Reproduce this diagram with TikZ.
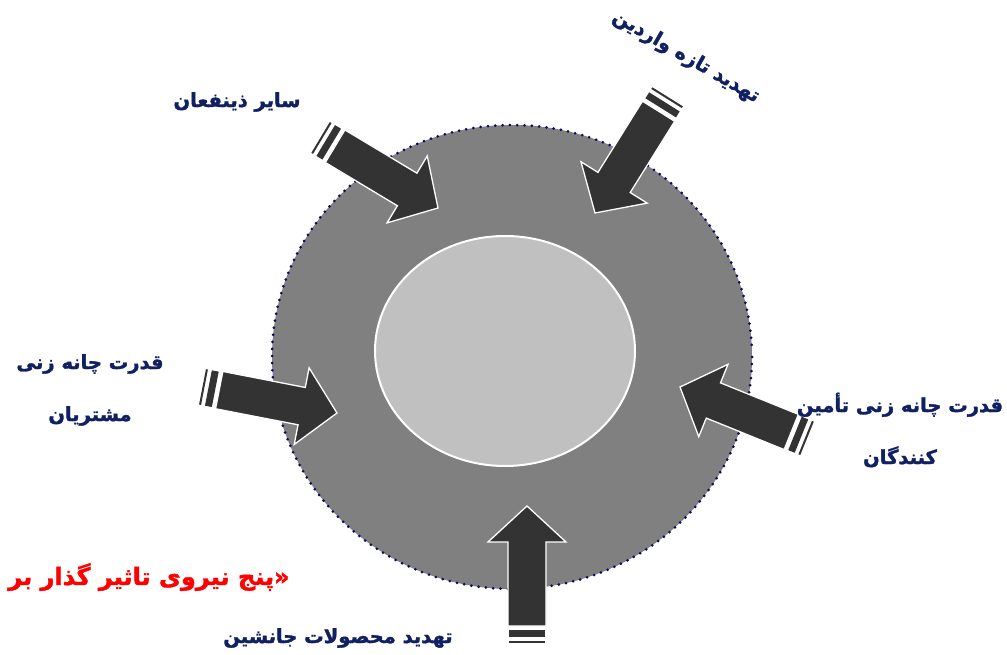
\documentclass[tikz,border=0pt]{standalone}
\usepackage{fontspec}
\usetikzlibrary{shapes.geometric}
\newfontfamily\farsifont[Script=Arabic,BoldFeatures={FakeBold=1.6}]{DejaVu Sans}
\TeXXeTstate=1
\definecolor{ringgray}{RGB}{128,128,128}
\definecolor{coregray}{RGB}{192,192,192}
\definecolor{arrowgray}{RGB}{51,51,51}
\definecolor{labelblue}{RGB}{16,32,96}
\definecolor{dotblue}{RGB}{10,10,100}

\tikzset{
  forcelabel/.style={text=labelblue,inner sep=0pt,align=center,
    font=\farsifont\bfseries\fontsize{19.5}{52}\selectfont},
  titlelabel/.style={text=red,inner sep=0pt,
    font=\farsifont\bfseries\fontsize{24}{28}\selectfont},
  forcearrow/.pic={
    \filldraw[fill=arrowgray,draw=white,line width=1.3pt]
      (0,0) -- (-36,-39) -- (-36,-19) -- (-120,-19) -- (-120,19) -- (-36,19) -- (-36,39) -- cycle;
    \fill[arrowgray] (-131,-18) rectangle (-124,18);
    \draw[arrowgray,line width=2pt] (-136,-18) -- (-136,18);
  }
}

\begin{document}
\begin{tikzpicture}[x=1pt,y=-1pt]
\useasboundingbox (0,0) rectangle (1007,655);
% ring and core
\fill[ringgray] (512,357) ellipse [x radius=240,y radius=232];
\foreach \a in {0,1.75,...,358.5}
  \fill[dotblue] ({512+240*cos(\a)},{357+232*sin(\a)}) circle (1.5);
\filldraw[fill=coregray,draw=white,line width=2pt] (505,351) ellipse [x radius=130,y radius=115];
% arrow tips
\coordinate (tipothers) at (438,208);
\coordinate (tipentrants) at (595,213);
\coordinate (tipbuyers) at (337,413);
\coordinate (tipsuppliers) at (680,387);
\coordinate (tipsubst) at (527,506);
\pic[rotate=-31] at (tipothers) {forcearrow};
\pic[rotate=-122] at (tipentrants) {forcearrow};
\pic[rotate=-11] at (tipbuyers) {forcearrow};
\pic[rotate=158] at (tipsuppliers) {forcearrow};
\pic[rotate=90] at (tipsubst) {forcearrow};
% labels
\node[forcelabel] (others) at (237,102) {\beginR سایر ذینفعان\endR};
\node[forcelabel,rotate=-30] (entrants) at (686,57) {\beginR تهدید تازه واردین\endR};
\node[forcelabel] (buyers) at (90,390) {\beginR قدرت چانه زنی\endR\\\beginR مشتریان\endR};
\node[forcelabel] (suppliers) at (900,430) {\beginR قدرت چانه زنی تأمین\endR\\\beginR کنندگان\endR};
\node[forcelabel] (subst) at (338,638) {\beginR تهدید محصولات جانشین\endR};
\node[titlelabel] (title) at (149,577) {\beginR«پنج نیروی تاثیر گذار بر\endR};
\end{tikzpicture}
\end{document}
